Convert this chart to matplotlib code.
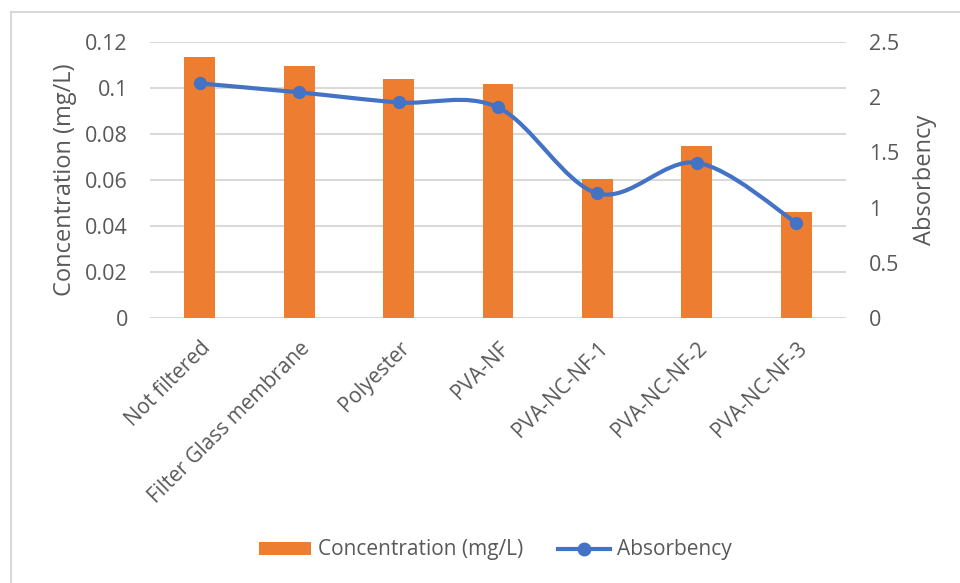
import numpy as np
import matplotlib
matplotlib.use('Agg')
import matplotlib.pyplot as plt
from matplotlib.path import Path
from matplotlib.patches import PathPatch
from matplotlib.lines import Line2D
from matplotlib.patches import Patch

# Data
categories = ['Not filtered', 'Filter Glass membrane', 'Polyester', 'PVA-NF',
              'PVA-NC-NF-1', 'PVA-NC-NF-2', 'PVA-NC-NF-3']
concentration = [0.1132, 0.1093, 0.1038, 0.1015, 0.0603, 0.0749, 0.0460]
absorbency = [2.123, 2.042, 1.951, 1.906, 1.129, 1.406, 0.864]

left_ticks = [0, 0.02, 0.04, 0.06, 0.08, 0.1, 0.12]
left_labels = ['0', '0.02', '0.04', '0.06', '0.08', '0.1', '0.12']
right_ticks = [0, 0.5, 1, 1.5, 2, 2.5]
right_labels = ['0', '0.5', '1', '1.5', '2', '2.5']

bar_color = '#ED7D31'
line_color = '#4472C4'
text_color = '#595959'
grid_color = '#D9D9D9'

plt.rcParams['font.family'] = ['Open Sans', 'DejaVu Sans']


def smooth_path(xs, ys):
    # Excel-like smoothed line: cubic Bezier segments, Catmull-Rom control points
    xs = np.asarray(xs, float)
    ys = np.asarray(ys, float)
    n = len(xs)
    verts = [(xs[0], ys[0])]
    codes = [Path.MOVETO]
    for i in range(n - 1):
        p0 = (xs[max(i - 1, 0)], ys[max(i - 1, 0)])
        p1 = (xs[i], ys[i])
        p2 = (xs[i + 1], ys[i + 1])
        p3 = (xs[min(i + 2, n - 1)], ys[min(i + 2, n - 1)])
        c1 = (p1[0] + (p2[0] - p0[0]) / 6, p1[1] + (p2[1] - p0[1]) / 6)
        c2 = (p2[0] - (p3[0] - p1[0]) / 6, p2[1] - (p3[1] - p1[1]) / 6)
        verts += [c1, c2, p2]
        codes += [Path.CURVE4] * 3
    return Path(verts, codes)


fig = plt.figure(figsize=(9.6, 5.83), dpi=100)
ax = fig.add_axes([150 / 960, 1 - 318.3 / 583, 696 / 960, 276.6 / 583])
x = np.arange(len(categories))

ax.bar(x, concentration, width=0.31, color=bar_color, zorder=2)
ax.set_xlim(-0.5, len(categories) - 0.5)
ax.set_ylim(0, 0.12)
ax.set_yticks(left_ticks)
ax.set_yticklabels(left_labels)
ax.yaxis.grid(True, color=grid_color, linewidth=1.5)
ax.set_axisbelow(True)
for s in ax.spines.values():
    s.set_visible(False)
ax.tick_params(length=0, colors=text_color, labelsize=15.5)
ax.tick_params(axis='y', pad=16)
ax.set_xticks(x)
ax.set_xticklabels(categories, rotation=45, ha='right', rotation_mode='anchor',
                   fontsize=15)
ax.tick_params(axis='x', pad=14)
ax.set_ylabel('Concentration (mg/L)', color=text_color, fontsize=17, labelpad=6)

ax2 = ax.twinx()
ax2.set_ylim(0, 2.5)
ax2.set_yticks(right_ticks)
ax2.set_yticklabels(right_labels)
for s in ax2.spines.values():
    s.set_visible(False)
ax2.tick_params(length=0, colors=text_color, labelsize=15.5, pad=16.5)
ax2.set_ylabel('Absorbency', color=text_color, fontsize=17, labelpad=10)
ax2.add_patch(PathPatch(smooth_path(x, absorbency), facecolor='none',
                        edgecolor=line_color, linewidth=3, capstyle='round',
                        zorder=3))
ax2.plot(x, absorbency, 'o', color=line_color, markersize=8.5, zorder=4)

# chart area border (left and top edges visible)
fig.add_artist(Line2D([11 / 960, 11 / 960], [0, 1 - 12 / 583], color=grid_color,
                      linewidth=1.5))
fig.add_artist(Line2D([11 / 960, 1], [1 - 12 / 583, 1 - 12 / 583], color=grid_color,
                      linewidth=1.5))

handles = [Patch(facecolor=bar_color, label='Concentration (mg/L)'),
           Line2D([0], [0], color=line_color, linewidth=3, marker='o',
                  markersize=9, label='Absorbency')]
fig.legend(handles=handles, loc='center', bbox_to_anchor=(0.516, 1 - 550 / 583),
           ncol=2, frameon=False, fontsize=15, labelcolor=text_color,
           handlelength=2.5, handleheight=0.6, handletextpad=0.3,
           columnspacing=1.7)

fig.savefig('out.png', dpi=100)
